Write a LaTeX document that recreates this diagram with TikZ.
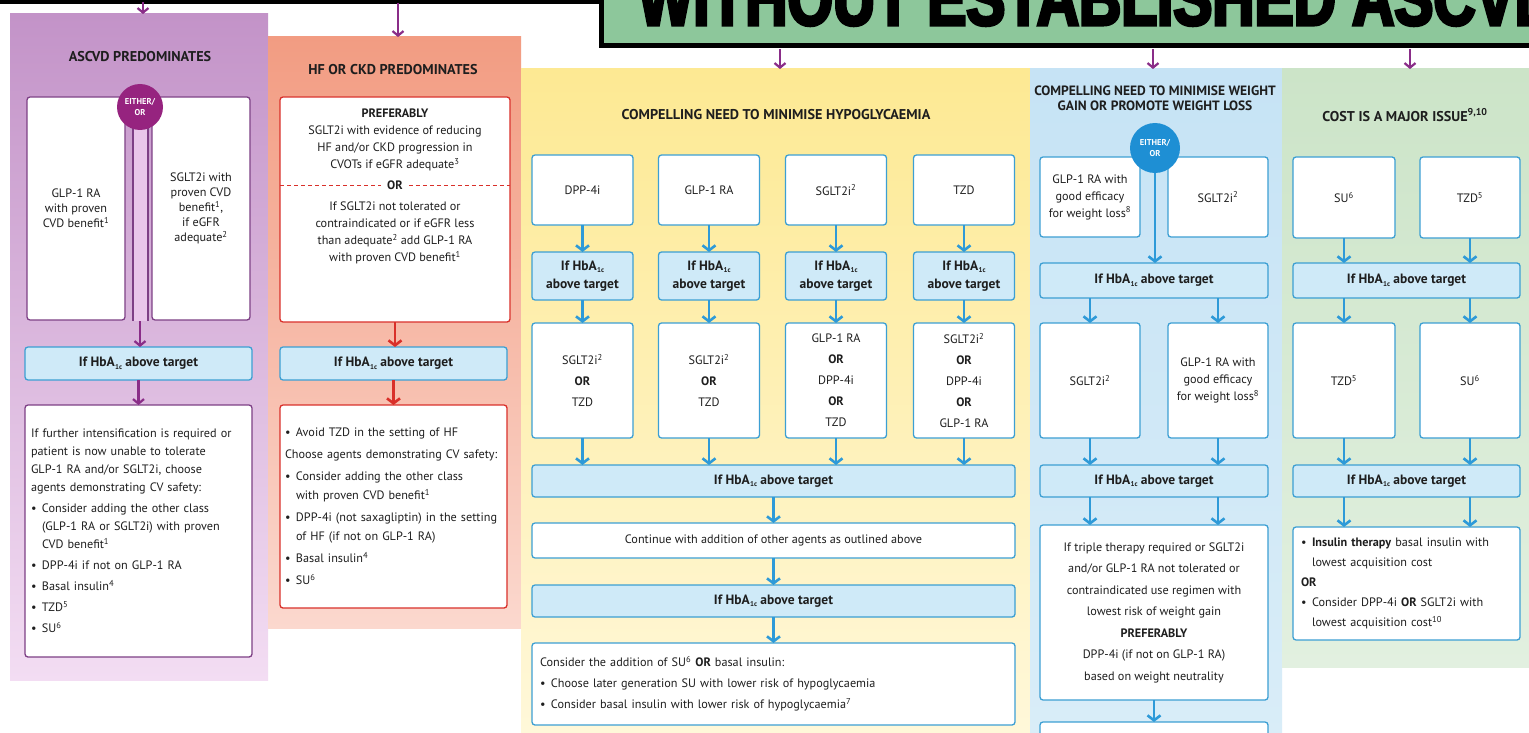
\documentclass[tikz,border=0pt]{standalone}
\usepackage{fontspec}
\newfontfamily\cond{PT Sans}
\newfontfamily\heavy{Liberation Sans}[FakeBold=4,FakeStretch=0.76]
\usetikzlibrary{arrows.meta,calc}

\definecolor{ink}{HTML}{1E1E1E}
\definecolor{pline}{HTML}{7D3F85}
\definecolor{pcirc}{HTML}{96237F}
\definecolor{parrc}{HTML}{8A2D88}
\definecolor{ptop}{HTML}{C393C8}
\definecolor{pbot}{HTML}{F3DDF3}
\definecolor{ptube}{HTML}{E9C6EA}
\definecolor{otop}{HTML}{F29C82}
\definecolor{obot}{HTML}{FBD8CE}
\definecolor{ored}{HTML}{D9302A}
\definecolor{ytop}{HTML}{FDE993}
\definecolor{ybot}{HTML}{FFF8DA}
\definecolor{btop}{HTML}{C6E3F5}
\definecolor{bbot}{HTML}{D9EDF8}
\definecolor{gtop}{HTML}{CCE4C8}
\definecolor{gbot}{HTML}{E2F0E0}
\definecolor{hbfill}{HTML}{CFEAF8}
\definecolor{bline}{HTML}{3C9FD3}
\definecolor{barrc}{HTML}{2E9AD8}
\definecolor{bcirc}{HTML}{1E8FD4}
\definecolor{hdrgreen}{HTML}{8DC79B}

\newcommand\hba{HbA\kern0.3pt\raisebox{-2.4pt}{\fontsize{7}{7}\selectfont 1c}}
\newcommand\lbul{\makebox[11pt][l]{\textbullet}}
\newcommand\lind{\hspace*{11pt}}

\tikzset{
  every node/.style={inner sep=0pt, outer sep=0pt, text=ink},
  ls/.style={font=\cond\fontsize{12.2}{#1}\selectfont},
  ttl/.style={font=\cond\bfseries\fontsize{14.2}{16}\selectfont, align=center},
  card/.style={draw=#1, fill=white, rounded corners=3pt, line width=1.3pt,
    font=\cond\fontsize{12.2}{17}\selectfont, align=center},
  listbox/.style={align=left, inner xsep=6pt},
  hbbox/.style={draw=bline, fill=hbfill, rounded corners=3pt, line width=1.3pt,
    font=\cond\bfseries\fontsize{13.5}{18}\selectfont, align=center},
  barr/.style={draw=barrc, line width=2.6pt, -{Straight Barb[length=5pt,width=13pt]}},
  rarr/.style={draw=ored, line width=2.6pt, -{Straight Barb[length=5pt,width=13pt]}},
  parr/.style={draw=parrc, line width=2.2pt, -{Straight Barb[length=4.5pt,width=11pt]}},
  either/.style={circle, text=white, align=center,
    font=\cond\bfseries\fontsize{8.5}{11}\selectfont},
}

\begin{document}
\begin{tikzpicture}[x=1pt,y=-1pt]
\path[use as bounding box] (0,0) rectangle (1529,733);
\clip (0,0) rectangle (1529,733);
\fill[white] (0,0) rectangle (1529,733);

% ---- header ----
\fill[black] (0,0) rectangle (603,4);
\node[draw=black, line width=5pt, fill=hdrgreen, minimum width=944, minimum height=76] (hdr) at (1073,8) {};
\node[anchor=base west, font=\heavy\bfseries\fontsize{77}{77}\selectfont, text=black] (hdrtxt) at (638,25) {WITHOUT ESTABLISHED ASCVD};

% ---- column panels ----
\node[top color=ptop, bottom color=pbot, minimum width=258, minimum height=666] (pp) at (139,347) {};
\node[top color=otop, bottom color=obot, minimum width=253, minimum height=591] (op) at (394.5,332.5) {};
\node[top color=ytop, bottom color=ybot, minimum width=509, minimum height=671] (yp) at (775.5,404.5) {};
\node[top color=btop, bottom color=bbot, minimum width=252, minimum height=671] (bp) at (1156,404.5) {};
\node[top color=gtop, bottom color=gbot, minimum width=247, minimum height=598] (gp) at (1405.5,368) {};

% entry arrows
\coordinate (pin) at (143,2);
\coordinate (oin) at (398,3);
\coordinate (yin) at (780,49);
\coordinate (bin) at (1153,49);
\coordinate (gin) at (1410,49);
\draw[parr] (pin) -- (pin |- pp.north);
\draw[parr] (oin) -- (oin |- op.north);
\draw[parr] (yin) -- (yin |- yp.north);
\draw[parr] (bin) -- (bin |- bp.north);
\draw[parr] (gin) -- (gin |- gp.north);

% ---- ASCVD predominates ----
\node[ttl] (ptitle) at (140,57) {ASCVD PREDOMINATES};
\node[card=pline, minimum width=98, minimum height=223, ls=15] (pglp) at (76,208.5)
  {GLP-1 RA\\with proven\\CVD benefit\textsuperscript{1}};
\node[card=pline, minimum width=98, minimum height=223, ls=15] (psglt) at (201,208.5)
  {SGLT2i with\\proven CVD\\benefit\textsuperscript{1},\\if eGFR\\adequate\textsuperscript{2}};
\node[hbbox, minimum width=227, minimum height=33] (phb) at (138.5,363.5) {If \hba{} above target};
\coordinate (ptubetop) at (140,107);
\coordinate (ptubeend) at (140,321);
\draw[pline, line width=17pt] (ptubetop) -- (ptubeend);
\draw[ptube, line width=13pt] (ptubetop) -- (ptubeend);
\node[either, fill=pcirc, minimum size=46] (peither) at (140,107) {EITHER/\\OR};
\draw[parr] (ptubeend) -- (ptubeend |- phb.north);
\node[card=pline, listbox, text width=215pt, minimum height=252, ls=18] (plist) at (138.5,531)
  {If further intensification is required or\\
   patient is now unable to tolerate\\
   GLP-1 RA and/or SGLT2i, choose\\
   agents demonstrating CV safety:\\[3pt]
   \lbul Consider adding the other class\\
   \lind (GLP-1 RA or SGLT2i) with proven\\
   \lind CVD benefit\textsuperscript{1}\\[3pt]
   \lbul DPP-4i if not on GLP-1 RA\\[3pt]
   \lbul Basal insulin\textsuperscript{4}\\[3pt]
   \lbul TZD\textsuperscript{5}\\[3pt]
   \lbul SU\textsuperscript{6}};
\draw[parr] (phb.south) -- (phb.south |- plist.north);

% ---- HF or CKD predominates ----
\node[ttl] (otitle) at (393,70) {HF OR CKD PREDOMINATES};
\node[card=ored, minimum width=230, minimum height=225] (obox) at (395,209.5) {};
\node[ls=17, align=center] (opref) at (395,140)
  {\textbf{PREFERABLY}\\SGLT2i with evidence of reducing\\HF and/or CKD progression in\\CVOTs if eGFR adequate\textsuperscript{3}};
\node[font=\cond\bfseries\fontsize{12.2}{14}\selectfont, inner xsep=6pt] (oor) at (395,185) {OR};
\draw[ored, line width=1pt, dash pattern=on 4pt off 3pt] (obox.west |- oor.west) -- (oor.west);
\draw[ored, line width=1pt, dash pattern=on 4pt off 3pt] (oor.east) -- (obox.east |- oor.east);
\node[ls=17, align=center] (oalt) at (395,233)
  {If SGLT2i not tolerated or\\contraindicated or if eGFR less\\than adequate\textsuperscript{2} add GLP-1 RA\\with proven CVD benefit\textsuperscript{1}};
\node[hbbox, minimum width=227, minimum height=33] (ohb) at (393.5,363.5) {If \hba{} above target};
\draw[rarr] (obox.south) -- (obox.south |- ohb.north);
\node[card=ored, listbox, inner xsep=5pt, text width=217pt, minimum height=203, ls=19] (olist) at (393.5,506.5)
  {\lbul Avoid TZD in the setting of HF\\[3pt]
   Choose agents demonstrating CV safety:\\[3pt]
   \lbul Consider adding the other class\\
   \lind with proven CVD benefit\textsuperscript{1}\\[3pt]
   \lbul DPP-4i (not saxagliptin) in the setting\\
   \lind of HF (if not on GLP-1 RA)\\[3pt]
   \lbul Basal insulin\textsuperscript{4}\\[3pt]
   \lbul SU\textsuperscript{6}};
\draw[rarr] (ohb.south) -- (ohb.south |- olist.north);

% ---- minimise hypoglycaemia ----
\node[ttl] (ytitle) at (776,115) {COMPELLING NEED TO MINIMISE HYPOGLYCAEMIA};
\node[card=bline, minimum width=101, minimum height=70] (ya1) at (582.5,190) {DPP-4i};
\node[card=bline, minimum width=101, minimum height=70] (ya2) at (709,190) {GLP-1 RA};
\node[card=bline, minimum width=101, minimum height=70] (ya3) at (836,190) {SGLT2i\textsuperscript{2}};
\node[card=bline, minimum width=101, minimum height=70] (ya4) at (964,190) {TZD};
\node[hbbox, minimum width=101, minimum height=48] (yh1) at (582.5,276) {If \hba\\above target};
\node[hbbox, minimum width=101, minimum height=48] (yh2) at (709,276) {If \hba\\above target};
\node[hbbox, minimum width=101, minimum height=48] (yh3) at (836,276) {If \hba\\above target};
\node[hbbox, minimum width=101, minimum height=48] (yh4) at (964,276) {If \hba\\above target};
\node[card=bline, minimum width=101, minimum height=115, ls=21] (ym1) at (582.5,380.5) {SGLT2i\textsuperscript{2}\\\textbf{OR}\\TZD};
\node[card=bline, minimum width=101, minimum height=115, ls=21] (ym2) at (709,380.5) {SGLT2i\textsuperscript{2}\\\textbf{OR}\\TZD};
\node[card=bline, minimum width=101, minimum height=115, ls=21] (ym3) at (836,380.5) {GLP-1 RA\\\textbf{OR}\\DPP-4i\\\textbf{OR}\\TZD};
\node[card=bline, minimum width=101, minimum height=115, ls=21] (ym4) at (964,380.5) {SGLT2i\textsuperscript{2}\\\textbf{OR}\\DPP-4i\\\textbf{OR}\\GLP-1 RA};
\foreach \k in {1,2,3,4} {
  \draw[barr] (ya\k.south) -- (yh\k.north);
  \draw[barr] (yh\k.south) -- (ym\k.north);
}
\node[hbbox, minimum width=483, minimum height=32] (yw) at (773.5,481) {If \hba{} above target};
\foreach \k in {1,2,3,4} {
  \draw[barr] (ym\k.south) -- (ym\k.south |- yw.north);
}
\node[card=bline, minimum width=483, minimum height=35] (ycont) at (773.5,540.5) {Continue with addition of other agents as outlined above};
\node[hbbox, minimum width=483, minimum height=32] (yw2) at (773.5,601) {If \hba{} above target};
\node[card=bline, listbox, inner xsep=8pt, text width=467pt, minimum height=82, ls=21] (yfin) at (773.5,684)
  {Consider the addition of SU\textsuperscript{6} \textbf{OR} basal insulin:\\
   \lbul Choose later generation SU with lower risk of hypoglycaemia\\
   \lbul Consider basal insulin with lower risk of hypoglycaemia\textsuperscript{7}};
\draw[barr] (yw.south) -- (ycont.north);
\draw[barr] (ycont.south) -- (yw2.north);
\draw[barr] (yw2.south) -- (yfin.north);

% ---- minimise weight gain ----
\node[ttl, font=\cond\bfseries\fontsize{13.5}{15}\selectfont] (btitle) at (1155,98)
  {COMPELLING NEED TO MINIMISE WEIGHT\\GAIN OR PROMOTE WEIGHT LOSS};
\node[card=bline, minimum width=100, minimum height=80, ls=17] (ba1) at (1090,197)
  {GLP-1 RA with\\good efficacy\\for weight loss\textsuperscript{8}};
\node[card=bline, minimum width=100, minimum height=80] (ba2) at (1218,197) {SGLT2i\textsuperscript{2}};
\node[either, fill=bcirc, minimum size=50] (beither) at (1155,148) {EITHER/\\OR};
\node[hbbox, minimum width=228, minimum height=35] (bh1) at (1154,280.5) {If \hba{} above target};
\draw[barr] (beither.south) -- (beither.south |- bh1.north);
\node[card=bline, minimum width=100, minimum height=115] (bm1) at (1090,380.5) {SGLT2i\textsuperscript{2}};
\node[card=bline, minimum width=100, minimum height=115, ls=17] (bm2) at (1218,380.5)
  {GLP-1 RA with\\good efficacy\\for weight loss\textsuperscript{8}};
\draw[barr] (bm1.north |- bh1.south) -- (bm1.north);
\draw[barr] (bm2.north |- bh1.south) -- (bm2.north);
\node[hbbox, minimum width=228, minimum height=32] (bh2) at (1154,481) {If \hba{} above target};
\draw[barr] (bm1.south) -- (bm1.south |- bh2.north);
\draw[barr] (bm2.south) -- (bm2.south |- bh2.north);
\node[card=bline, minimum width=228, minimum height=175, ls=21.5] (bfin) at (1154,612.5)
  {If triple therapy required or SGLT2i\\and/or GLP-1 RA not tolerated or\\contraindicated use regimen with\\lowest risk of weight gain\\\textbf{PREFERABLY}\\DPP-4i (if not on GLP-1 RA)\\based on weight neutrality};
\draw[barr] (bm1.south |- bh2.south) -- (bm1.south |- bfin.north);
\draw[barr] (bm2.south |- bh2.south) -- (bm2.south |- bfin.north);
\node[card=bline, minimum width=228, minimum height=60] (bnext) at (1154,752) {};
\draw[barr] (bfin.south) -- (bnext.north);

% ---- cost is a major issue ----
\node[ttl] (gtitle) at (1405,115) {COST IS A MAJOR ISSUE\textsuperscript{9,10}};
\node[card=bline, minimum width=102, minimum height=81] (ga1) at (1344,197.5) {SU\textsuperscript{6}};
\node[card=bline, minimum width=100, minimum height=81] (ga2) at (1470,197.5) {TZD\textsuperscript{5}};
\node[hbbox, minimum width=227, minimum height=35] (gh1) at (1406.5,280.5) {If \hba{} above target};
\draw[barr] (ga1.south) -- (ga1.south |- gh1.north);
\draw[barr] (ga2.south) -- (ga2.south |- gh1.north);
\node[card=bline, minimum width=102, minimum height=115] (gm1) at (1344,380.5) {TZD\textsuperscript{5}};
\node[card=bline, minimum width=100, minimum height=115] (gm2) at (1470,380.5) {SU\textsuperscript{6}};
\draw[barr] (gm1.north |- gh1.south) -- (gm1.north);
\draw[barr] (gm2.north |- gh1.south) -- (gm2.north);
\node[hbbox, minimum width=227, minimum height=32] (gh2) at (1406.5,481) {If \hba{} above target};
\draw[barr] (gm1.south) -- (gm1.south |- gh2.north);
\draw[barr] (gm2.south) -- (gm2.south |- gh2.north);
\node[card=bline, listbox, inner xsep=8pt, text width=211pt, minimum height=113, ls=20] (gfin) at (1406.5,583.5)
  {\lbul\textbf{Insulin therapy} basal insulin with\\
   \lind lowest acquisition cost\\
   \textbf{OR}\\
   \lbul Consider DPP-4i \textbf{OR} SGLT2i with\\
   \lind lowest acquisition cost\textsuperscript{10}};
\draw[barr] (gm1.south |- gh2.south) -- (gm1.south |- gfin.north);
\draw[barr] (gm2.south |- gh2.south) -- (gm2.south |- gfin.north);
\end{tikzpicture}
\end{document}
